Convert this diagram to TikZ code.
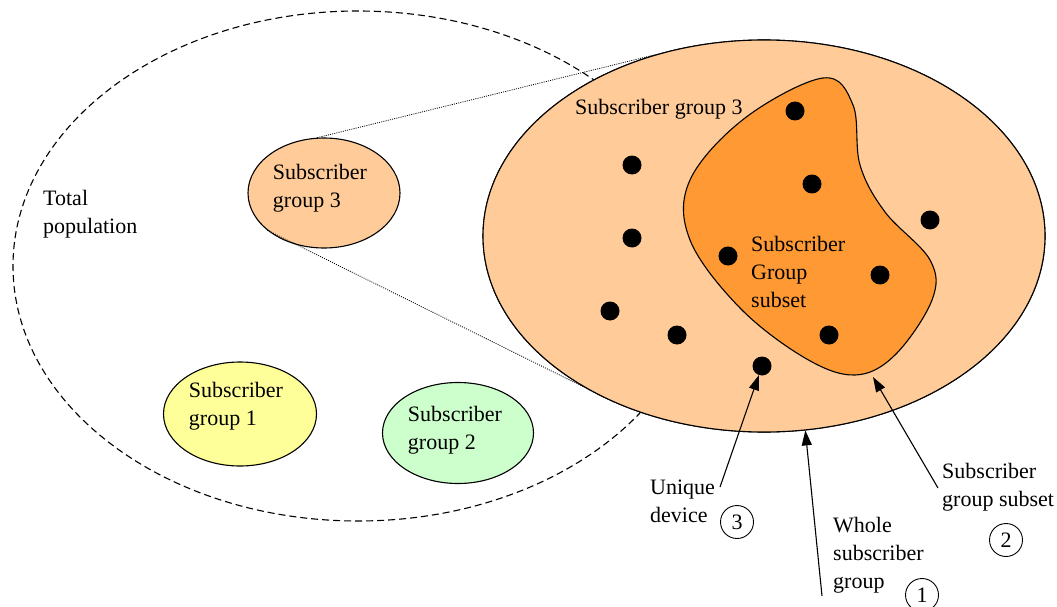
\documentclass[tikz,border=0pt]{standalone}
\usepackage{fontspec}
\setmainfont{Liberation Serif}
\usepackage{tikz}
\usetikzlibrary{arrows.meta, shapes}

\definecolor{peach}{HTML}{FFCC99}
\definecolor{subsetorange}{HTML}{FF9933}
\definecolor{paleyellow}{HTML}{FFFF99}
\definecolor{palegreen}{HTML}{CCFFCC}

\begin{document}
\begin{tikzpicture}[x=1pt, y=-1pt, font=\fontsize{22}{28}\selectfont,
  group/.style={ellipse, draw, line width=1.1pt, inner sep=0pt},
  txt/.style={align=left, inner sep=0pt},
  dot/.style={circle, fill=black, inner sep=0pt, minimum size=19pt},
  num/.style={circle, draw, line width=0.9pt, inner sep=0pt, minimum size=33pt},
  pointer/.style={draw, line width=1.1pt, -{Triangle[length=15pt, width=10pt]}}]
\useasboundingbox (0,0) rectangle (1057,607);

% total population
\node[ellipse, draw, line width=1.1pt, dash pattern=on 7pt off 4pt,
  minimum width=690pt, minimum height=510pt] (pop) at (358,266) {};
\node[txt, anchor=west] (poplabel) at (43,214) {Total\\population};

% the three groups
\node[group, fill=peach, minimum width=152pt, minimum height=110pt] (g3small) at (324,193) {};
\node[txt] (g3smalllabel) at (320,188) {Subscriber\\group 3};
\node[group, fill=paleyellow, minimum width=153pt, minimum height=104pt] (g1) at (240,414) {};
\node[txt] (g1label) at (236,406) {Subscriber\\group 1};
\node[group, fill=palegreen, minimum width=151pt, minimum height=101pt] (g2) at (458,433) {};
\node[txt] (g2label) at (455,430) {Subscriber\\group 2};

% zoom on group 3
\node[group, minimum width=562pt, minimum height=392pt] (g3big) at (764,236) {};
\draw [line width=0.8pt, dash pattern=on 1pt off 1.2pt] (g3small.97) -- (g3big.121);
\draw [line width=0.8pt, dash pattern=on 1pt off 1.2pt] (g3small.213) -- (g3big.220);
\node[group, fill=peach, minimum width=562pt, minimum height=392pt] at (g3big) {};
\node[txt, anchor=base west] (g3biglabel) at (575,115) {Subscriber group 3};

% subset
\draw [fill=subsetorange, line width=1.1pt] plot [smooth cycle, tension=0.6] coordinates
  {(823,78) (853,105) (860,165) (885,212) (930,260) (932,300) (895,355) (855,375)
   (805,358) (740,308) (690,240) (690,180) (745,118)};
\coordinate (subsetbottom) at (873,377);
\node[txt, anchor=west] (subsetlabel) at (751,272) {Subscriber\\Group\\subset};

% devices
\node[dot] (d1) at (795,111) {};
\node[dot] (d2) at (632,165) {};
\node[dot] (d3) at (812,184) {};
\node[dot] (d4) at (930,220) {};
\node[dot] (d5) at (632,238) {};
\node[dot] (d6) at (728,256) {};
\node[dot] (d7) at (880,275) {};
\node[dot] (d8) at (610,311) {};
\node[dot] (d9) at (677,335) {};
\node[dot] (d10) at (829,335) {};
\node[dot] (dev) at (762,366) {};

% callouts
\node[txt, anchor=west] (devlabel) at (650,501) {Unique\\device};
\node[num] (n3) at (737,522) {3};
\node[txt, anchor=west] (wholelabel) at (833,555) {Whole\\subscriber\\group};
\node[num] (n1) at (922,595) {1};
\node[txt, anchor=west] (partlabel) at (942,487) {Subscriber\\group subset};
\node[num] (n2) at (1006,540) {2};

\coordinate (devtail) at (720,487);
\coordinate (wholetail) at (822,596);
\coordinate (parttail) at (938,488);
\draw [pointer] (devtail) -- (dev);
\draw [pointer] (wholetail) -- (g3big.-78);
\draw [pointer] (parttail) -- (subsetbottom);
\end{tikzpicture}
\end{document}
